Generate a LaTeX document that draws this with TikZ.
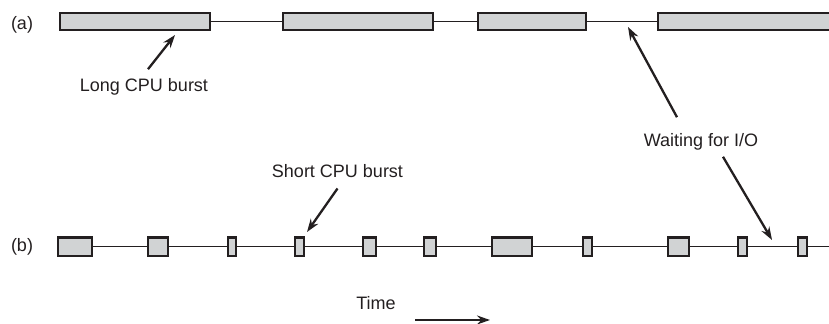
\documentclass[tikz,border=0pt]{standalone}
\usepackage{fontspec}
\setmainfont{Liberation Sans}
\usetikzlibrary{arrows.meta}

\definecolor{grigiocpu}{RGB}{209,211,212}
\definecolor{tratto}{RGB}{35,31,32}

\begin{document}
\begin{tikzpicture}[x=0.5pt, y=-0.5pt, font=\fontsize{9}{10}\selectfont, text=tratto]

        % Stili per barre, linee di attesa e frecce
        \tikzstyle{burst}=[draw=tratto, fill=grigiocpu, line width=1.2pt]
        \tikzstyle{attesa}=[draw=tratto, line width=0.9pt]
        \tikzstyle{freccia}=[draw=tratto, line width=1.15pt, -{Stealth[length=6.5pt, width=4.5pt]}]
        \tikzstyle{etichetta}=[inner sep=0pt]

        % Area del disegno (829 x 324)
        \useasboundingbox (0,0) rectangle (829,324);

        % Riga (a): processo con burst lunghi
        \node[etichetta] (rigaA) at (22,25) {(a)};
        \draw[attesa] (210,21.5) -- (829,21.5);
        \foreach \s/\e in {60/210, 283/433, 478/586, 658/840}
            \draw[burst] (\s,13) rectangle (\e,30);

        % Riga (b): processo con burst brevi
        \node[etichetta] (rigaB) at (22,246.5) {(b)};
        \draw[attesa] (92,246.5) -- (829,246.5);
        \foreach \s/\e in {58/92, 148/168, 228/236, 295/304, 363/376, 424/436,
                           492/532, 583/592, 668/689, 738/747, 798/807}
            \draw[burst] (\s,237.5) rectangle (\e,256);

        % Punte delle frecce
        \coordinate (puntaLungo) at (175,35);
        \coordinate (puntaAttesaA) at (628,27);
        \coordinate (puntaBreve) at (307,232);
        \coordinate (puntaAttesaB) at (772,240);
        \coordinate (tempoInizio) at (415,320);
        \coordinate (tempoFine) at (490,320);

        % Etichette
        \node[etichetta] (lungo) at (144,87) {Long CPU burst};
        \node[etichetta] (io) at (701,142) {Waiting for I/O};
        \node[etichetta] (breve) at (337.5,171.5) {Short CPU burst};
        \node[etichetta] (tempo) at (376,303.5) {Time};

        % Frecce
        \draw[freccia] ([xshift=2pt, yshift=4.5pt]lungo.north) -- (puntaLungo);
        \draw[freccia] ([xshift=-12pt, yshift=8pt]io.north) -- (puntaAttesaA);
        \draw[freccia] ([xshift=11pt, yshift=-3pt]io.south) -- (puntaAttesaB);
        \draw[freccia] ([yshift=-5pt]breve.south) -- (puntaBreve);
        \draw[freccia] (tempoInizio) -- (tempoFine);

\end{tikzpicture}
\end{document}
